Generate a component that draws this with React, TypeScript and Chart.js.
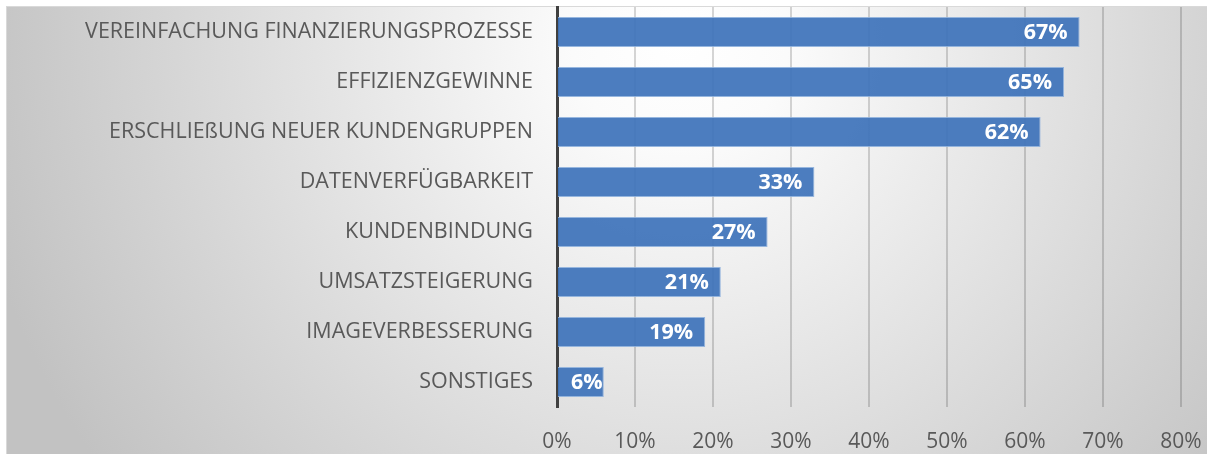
import React, { useEffect, useRef } from "react";
import { Chart, registerables } from "chart.js";

Chart.register(...registerables);

const categories = [
  "VEREINFACHUNG FINANZIERUNGSPROZESSE",
  "EFFIZIENZGEWINNE",
  "ERSCHLIEßUNG NEUER KUNDENGRUPPEN",
  "DATENVERFÜGBARKEIT",
  "KUNDENBINDUNG",
  "UMSATZSTEIGERUNG",
  "IMAGEVERBESSERUNG",
  "SONSTIGES",
];
const values = [67, 65, 62, 33, 27, 21, 19, 6];
const xTicks = [0, 10, 20, 30, 40, 50, 60, 70, 80];

const FONT = "'Open Sans', 'DejaVu Sans', sans-serif";

const bgPlugin = {
  id: "bgPlugin",
  beforeDraw(chart: any) {
    const { ctx, width, height } = chart;
    ctx.save();
    ctx.fillStyle = "#ffffff";
    ctx.fillRect(0, 0, width, height);
    const g = ctx.createRadialGradient(680, 40, 0, 680, 40, 720);
    g.addColorStop(0, "#ffffff");
    g.addColorStop(0.15, "#fbfbfb");
    g.addColorStop(0.7, "#d6d6d6");
    g.addColorStop(1, "#c2c2c2");
    ctx.fillStyle = g;
    ctx.fillRect(7, 7, width, height);
    ctx.strokeStyle = "#d9d9d9";
    ctx.lineWidth = 1;
    ctx.strokeRect(6.5, 6.5, width, height);
    ctx.restore();
  },
};

const labelPlugin = {
  id: "labelPlugin",
  afterDatasetsDraw(chart: any) {
    const { ctx } = chart;
    const meta = chart.getDatasetMeta(0);
    ctx.save();
    ctx.fillStyle = "#ffffff";
    ctx.font = `bold 21.5px ${FONT}`;
    ctx.textAlign = "left";
    ctx.textBaseline = "middle";
    meta.data.forEach((bar: any, i: number) => {
      const txt = values[i] + "%";
      const w = ctx.measureText(txt).width;
      const left = Math.max(bar.x - 12 - w, bar.base + 13);
      ctx.fillText(txt, left, bar.y + 1);
    });
    ctx.restore();
  },
};

export default function App() {
  const ref = useRef<HTMLCanvasElement | null>(null);
  useEffect(() => {
    if (!ref.current) return;
    const chart = new Chart(ref.current, {
      type: "bar",
      data: {
        labels: categories,
        datasets: [
          {
            data: values,
            backgroundColor: "rgba(62,115,186,0.93)",
            borderColor: "rgba(140,175,220,0.9)",
            borderWidth: 1,
            borderSkipped: "start",
            categoryPercentage: 1,
            barPercentage: 0.6,
          },
        ],
      },
      options: {
        indexAxis: "y",
        animation: false,
        responsive: false,
        maintainAspectRatio: false,
        layout: { autoPadding: false, padding: { top: 7, right: 26, left: 0, bottom: 0 } },
        plugins: { legend: { display: false }, tooltip: { enabled: false } },
        scales: {
          x: {
            min: 0,
            max: 80,
            afterBuildTicks: (s: any) => {
              s.ticks = xTicks.map((v) => ({ value: v }));
            },
            afterFit: (s: any) => {
              s.height = 47;
              s.paddingLeft = 0;
              s.paddingRight = 0;
              s.paddingTop = 0;
              s.paddingBottom = 0;
            },
            grid: {
              color: "rgba(0,0,0,0.16)",
              lineWidth: 2,
              drawTicks: false,
            },
            border: { display: false },
            ticks: {
              padding: 22,
              maxRotation: 0,
              color: "#595959",
              font: { family: FONT, size: 21 },
              callback: (v: any) => v + "%",
            },
          },
          y: {
            afterFit: (s: any) => {
              s.width = 557;
              s.paddingLeft = 0;
              s.paddingRight = 0;
              s.paddingTop = 0;
              s.paddingBottom = 0;
            },
            grid: { display: false, drawTicks: false },
            border: { display: true, color: "#404040", width: 3 },
            ticks: {
              padding: 24,
              color: "#595959",
              font: { family: FONT, size: 21.5 },
            },
          },
        },
      },
      plugins: [bgPlugin, labelPlugin],
    });
    return () => chart.destroy();
  }, []);
  return (
    <div style={{ position: "absolute", left: 0, top: 0, width: 1207, height: 454 }}>
      <canvas ref={ref} width={1207} height={454} style={{ width: 1207, height: 454 }} />
    </div>
  );
}
